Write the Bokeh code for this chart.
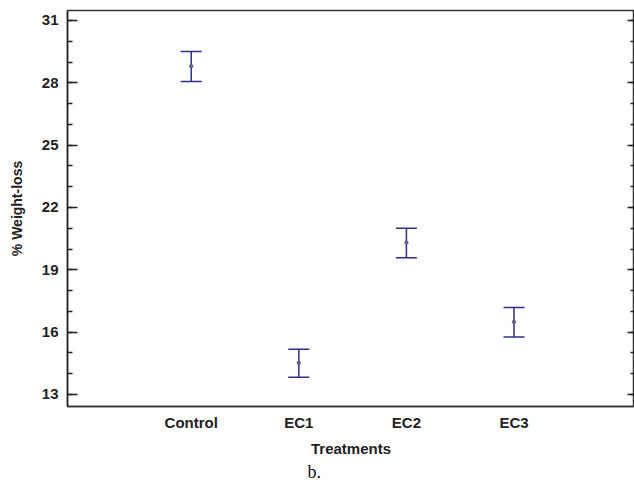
from bokeh.plotting import figure
from bokeh.models import (ColumnDataSource, Whisker, TeeHead, LinearAxis,
                          FixedTicker, Title, CustomJSTickFormatter)
from bokeh.embed import file_html
from bokeh.resources import INLINE

# Mean % weight-loss per treatment with confidence interval bounds
treatments = ["Control", "EC1", "EC2", "EC3"]
positions = [1, 2, 3, 4]
means = [28.8, 14.52, 20.31, 16.49]
lower = [28.06, 13.83, 19.58, 15.76]
upper = [29.51, 15.17, 21.0, 17.18]

y_ticks = [13, 16, 19, 22, 25, 28, 31]
y_minor = [13, 14, 15, 16, 17, 18, 19, 20, 21, 22, 23, 24, 25, 26, 27, 28, 29, 30, 31]

INK = "#2f2f8a"
FONT = "Liberation Sans"

src = ColumnDataSource(dict(x=positions, mean=means, lo=lower, hi=upper))

p = figure(width=634, height=481, output_backend="svg", toolbar_location=None,
           x_range=(-0.15, 5.12), y_range=(12.42, 31.48),
           min_border_left=67, min_border_right=0, min_border_top=10,
           min_border_bottom=10)
p.grid.visible = False
p.outline_line_color = "#333333"
p.outline_line_width = 1.5
p.background_fill_color = "white"
p.border_fill_color = "white"

# x axis: category names at integer positions, no tick marks
xa = p.xaxis[0]
xa.ticker = FixedTicker(ticks=positions)
xa.major_label_overrides = {k: v for k, v in zip(positions, treatments)}
xa.major_tick_line_color = None
xa.minor_tick_line_color = None
xa.axis_line_color = "#333333"
xa.axis_line_width = 1.5
xa.major_label_text_font = FONT
xa.major_label_text_font_style = "bold"
xa.major_label_text_font_size = "15px"
xa.major_label_text_color = "#222222"
xa.major_label_standoff = 1
xa.axis_label = "Treatments"
xa.axis_label_text_font = FONT
xa.axis_label_text_font_style = "bold"
xa.axis_label_text_font_size = "15px"
xa.axis_label_text_color = "#222222"
xa.axis_label_standoff = 6

# y axis: ticks drawn inward
ya = p.yaxis[0]
ya.ticker = FixedTicker(ticks=y_ticks, minor_ticks=y_minor)
ya.major_tick_in = 10
ya.major_tick_out = 0
ya.minor_tick_in = 5
ya.minor_tick_out = 0
ya.major_tick_line_color = "#222222"
ya.minor_tick_line_color = "#222222"
ya.major_tick_line_width = 1.5
ya.minor_tick_line_width = 1.5
ya.axis_line_color = "#222222"
ya.axis_line_width = 1.5
ya.major_label_text_font = FONT
ya.major_label_text_font_style = "bold"
ya.major_label_text_font_size = "15px"
ya.major_label_text_color = "#222222"
ya.major_label_standoff = 9
ya.axis_label = "% Weight-loss"
ya.axis_label_text_font = FONT
ya.axis_label_text_font_style = "bold"
ya.axis_label_text_font_size = "14px"
ya.axis_label_text_color = "#222222"
ya.axis_label_standoff = 14

# right axis: mirrored inward ticks, labels left blank
ra = LinearAxis(ticker=FixedTicker(ticks=y_ticks, minor_ticks=y_minor),
                formatter=CustomJSTickFormatter(code="return ''"),
                major_tick_in=7, major_tick_out=0,
                minor_tick_in=4, minor_tick_out=0,
                major_tick_line_color="#222222", minor_tick_line_color="#222222",
                major_tick_line_width=1.5, minor_tick_line_width=1.5,
                axis_line_color="#333333", axis_line_width=1.5,
                major_label_standoff=0)
p.add_layout(ra, "right")

# interval bars with caps
whisker = Whisker(source=src, base="x", lower="lo", upper="hi",
                  line_color=INK, line_width=1.5,
                  upper_head=TeeHead(size=21, line_color=INK, line_width=1.5),
                  lower_head=TeeHead(size=21, line_color=INK, line_width=1.5))
p.add_layout(whisker)

# mean markers
p.scatter("x", "mean", source=src, size=3.5, marker="circle",
          fill_color="#6a6a8a", line_color="#55557a", line_width=0.8)

caption = Title(text="b.", align="left", offset=240,
                text_font="Liberation Serif", text_font_size="18px",
                text_font_style="normal", text_color="#111111", standoff=0)
p.add_layout(caption, "below")

open("out.html", "w").write(file_html(p, INLINE))
